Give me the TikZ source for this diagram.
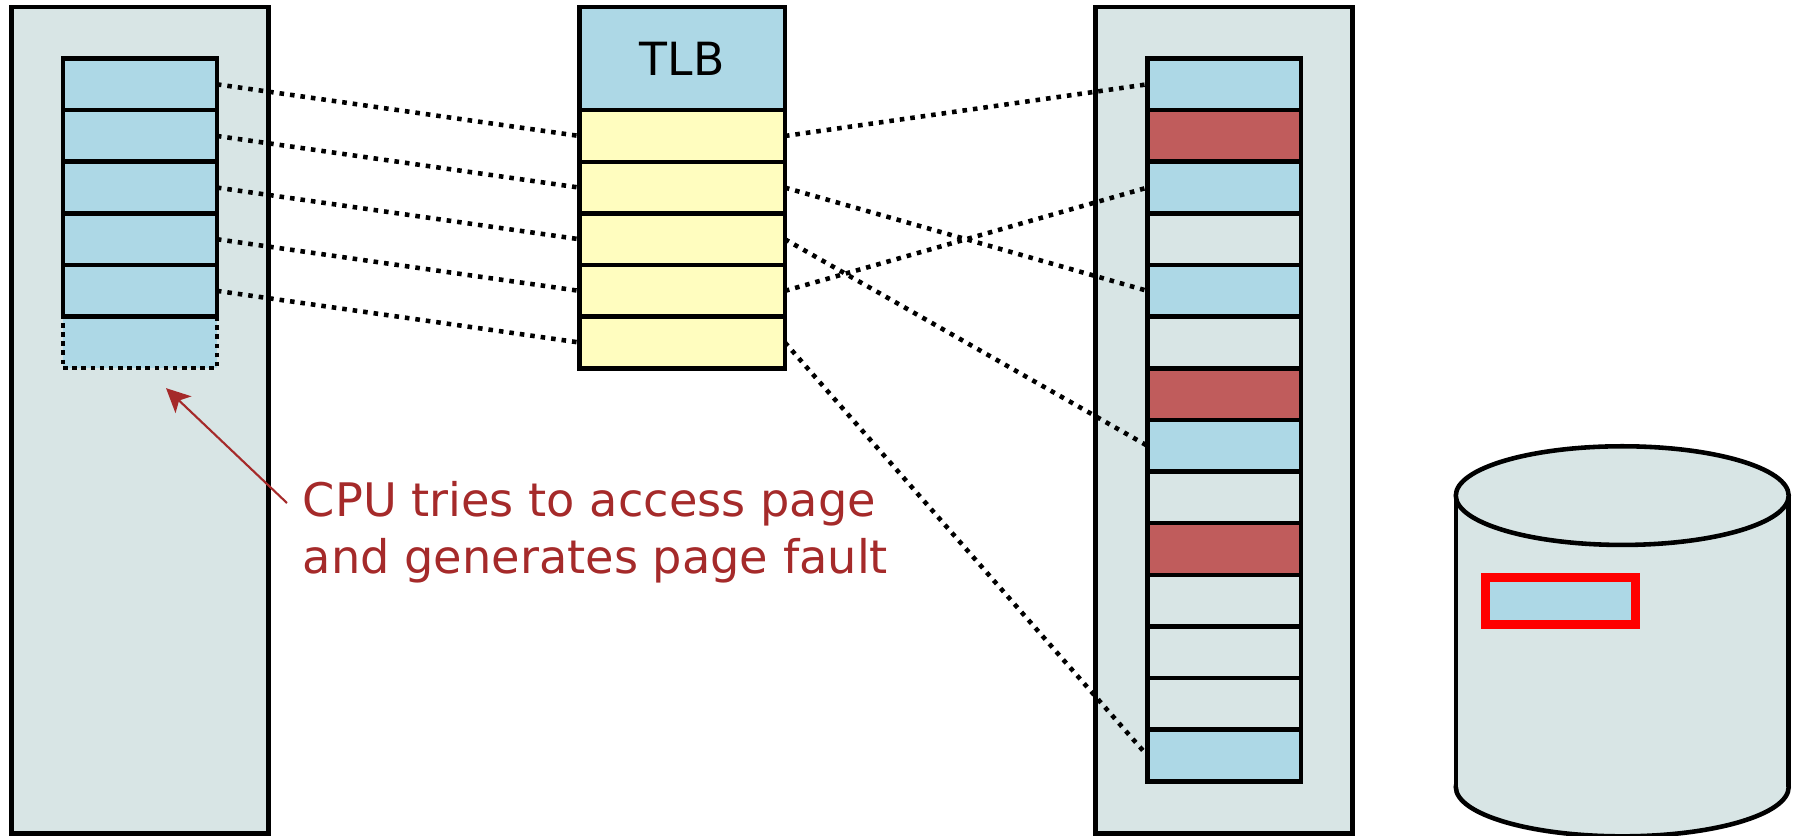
\documentclass[tikz,border=0pt]{standalone}
\usepackage{fontspec}
\setmainfont{DejaVu Sans}
\usetikzlibrary{arrows.meta,positioning}
\definecolor{memgrey}{RGB}{216,229,229}
\definecolor{pageblue}{RGB}{173,216,230}
\definecolor{tlbyellow}{RGB}{255,253,191}
\definecolor{takenred}{RGB}{192,92,92}
\definecolor{faultbrown}{RGB}{165,42,42}
\tikzset{
  every picture/.style={line width=1.3pt},
  frame/.style={draw=black, fill=memgrey, line width=1.3pt, inner sep=0pt, outer sep=0pt},
  cell/.style={draw=black, fill=pageblue, line width=1.3pt, inner sep=0pt, outer sep=0pt, minimum width=1.537cm, minimum height=0.516cm},
  entry/.style={cell, fill=tlbyellow, minimum width=2.054cm},
  missing/.style={cell, dash pattern=on 1.3pt off 1.3pt},
  map/.style={line width=1.3pt, dash pattern=on 1.3pt off 1.7pt},
  pointer/.style={-{Stealth[length=2.4mm,width=2.3mm,inset=0.6mm]}, draw=faultbrown, fill=faultbrown, line width=0.6pt},
  remark/.style={text=faultbrown, align=left, inner sep=0pt, font=\fontsize{13.15}{16.2}\selectfont},
}

\begin{document}
\begin{tikzpicture}[x=0.01cm, y=-0.01cm]
  \useasboundingbox (0,0) rectangle (1799,836);
  % virtual memory of the process
  \node[frame, anchor=north west, minimum width=2.57cm, minimum height=8.26cm] (virt) at (11.5,7) {};
  \node[missing, anchor=north west] (vmiss) at (63.1,316.5) {};
  \node[cell, anchor=north west] (v0) at (63.1,58.5) {};
  \foreach \i/\j in {1/0,2/1,3/2,4/3} { \node[cell, below=0pt of v\j] (v\i) {}; }
  % the TLB
  \node[cell, anchor=north west, minimum width=2.054cm, minimum height=1.032cm, font=\fontsize{13}{15}\selectfont] (tlb) at (579.4,6.9) {TLB};
  \node[entry, below=0pt of tlb] (t0) {};
  \foreach \i/\j in {1/0,2/1,3/2,4/3} { \node[entry, below=0pt of t\j] (t\i) {}; }
  % physical memory
  \node[frame, anchor=north west, minimum width=2.569cm, minimum height=8.26cm] (phys) at (1095.7,7) {};
  \node[cell, anchor=north west] (p0) at (1147.3,58.5) {};
  \foreach \i/\j/\c in {1/0/takenred, 2/1/pageblue, 3/2/memgrey, 4/3/pageblue, 5/4/memgrey, 6/5/takenred,
      7/6/pageblue, 8/7/memgrey, 9/8/takenred, 10/9/memgrey, 11/10/memgrey, 12/11/memgrey, 13/12/pageblue}
    { \node[cell, fill=\c, below=0pt of p\j] (p\i) {}; }
  % backing store
  \draw[frame] (1622.25,787) ellipse[x radius=1.6635cm, y radius=0.493cm];
  \fill[memgrey] (1455.9,495.6) rectangle (1788.6,787);
  \draw (1455.9,495.6) -- (1455.9,787) (1788.6,495.6) -- (1788.6,787);
  \draw[frame] (1622.25,495.6) ellipse[x radius=1.6635cm, y radius=0.493cm];
  \node[cell, draw=red, line width=2.6pt, minimum width=1.5cm, minimum height=0.47cm] (swap) at (1560.5,601) {};
  % mappings
  \foreach \i in {0,...,4} { \draw[map] (v\i.east) -- (t\i.west); }
  \foreach \i/\k in {0/0,1/4,2/7,3/2,4/13} { \draw[map] (t\i.east) -- (p\k.west); }
  % the fault
  \node[remark, anchor=west] (fault) at (300.6,532) {CPU tries to access page\\and generates page fault};
  \coordinate (hint) at (287,503);
  \draw[pointer] (hint) -- ([xshift=0.26cm,yshift=-0.2cm]vmiss.south);
\end{tikzpicture}
\end{document}
